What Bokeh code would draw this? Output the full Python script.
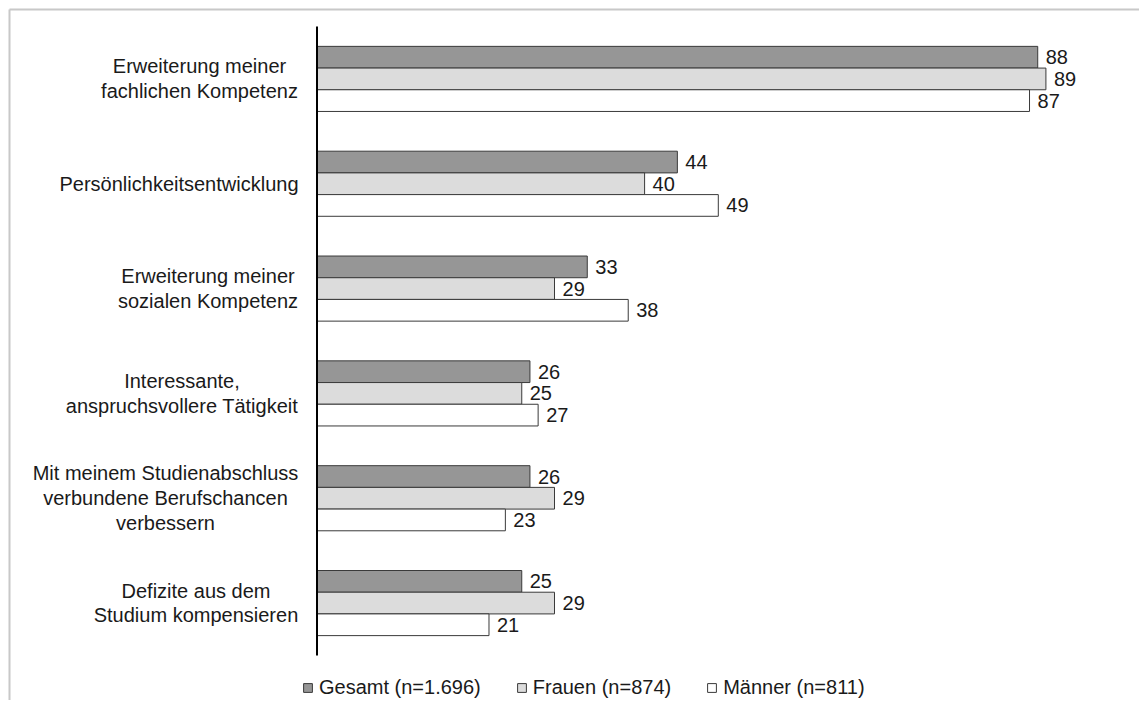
from bokeh.plotting import figure
from bokeh.models import Range1d, ColumnDataSource, Legend, LegendItem
from bokeh.embed import file_html
from bokeh.resources import INLINE
from bokeh.core.properties import value

# ---------------- data ----------------
categories = [
    "Erweiterung meiner\nfachlichen Kompetenz",
    "Persönlichkeitsentwicklung",
    "Erweiterung meiner\nsozialen Kompetenz",
    "Interessante,\nanspruchsvollere Tätigkeit",
    "Mit meinem Studienabschluss\nverbundene Berufschancen\nverbessern",
    "Defizite aus dem\nStudium kompensieren",
]
gesamt = [88, 44, 33, 26, 26, 25]
frauen = [89, 40, 29, 25, 29, 29]
maenner = [87, 49, 38, 27, 23, 21]
series_names = ["Gesamt (n=1.696)", "Frauen (n=874)", "Männer (n=811)"]

# ---------------- layout ----------------
W, H = 1139, 700
ZERO_PX = 316.5        # canvas x of value 0
PX_PER_UNIT = 8.19
TOP_PX = 26.0          # canvas y of the top of the category band
ROW_PX = 104.83
BAR_PX = 21.7
LABEL_CENTER_PX = [199, 178.5, 207.5, 181.5, 165, 195.5]  # canvas x of label centres
BORDER_PX = 9

FONT_NAME = "Liberation Sans"
FONT = value(FONT_NAME)
FS = "20px"
TXT = "#1a1a1a"

n = len(categories)
x_start = -ZERO_PX / PX_PER_UNIT
x_end = (W - ZERO_PX) / PX_PER_UNIT
y_top = -TOP_PX / ROW_PX - 0.5
y_bottom = (H - TOP_PX) / ROW_PX - 0.5
bh = BAR_PX / ROW_PX

p = figure(width=W, height=H, output_backend="svg", toolbar_location=None,
           x_range=Range1d(x_start, x_end), y_range=Range1d(y_bottom, y_top),
           x_axis_location=None, y_axis_location=None,
           min_border=0, min_border_left=0, min_border_right=0,
           min_border_top=0, min_border_bottom=0)
p.outline_line_color = None
p.xgrid.visible = False
p.ygrid.visible = False
p.background_fill_color = "white"
p.border_fill_color = "white"

# chart-area border (top + left visible)
bx = x_start + BORDER_PX / PX_PER_UNIT
by = y_top + BORDER_PX / ROW_PX
p.segment(x0=[bx, bx], y0=[by, by], x1=[bx, x_end], y1=[y_bottom, by],
          line_color="#c8c8c8", line_width=2)

ys = list(range(n))
fills = ["#969696", "#dcdcdc", "#ffffff"]
series = [gesamt, frauen, maenner]
offsets = [-bh, 0.0, bh]
renderers = []
for vals, off, fc in zip(series, offsets, fills):
    src = ColumnDataSource(dict(y=[y + off for y in ys], v=vals,
                                t=[str(v) for v in vals]))
    r = p.hbar(y="y", left=0, right="v", height=bh, source=src,
               fill_color=fc, line_color="#3a3a3a", line_width=1)
    renderers.append(r)
    p.text(x="v", y="y", text="t", source=src, x_offset=8,
           text_align="left", text_baseline="middle",
           text_font=FONT, text_font_size=FS, text_color=TXT)

# vertical category axis line
p.segment(x0=[0], y0=[-0.5], x1=[0], y1=[n - 0.5], line_color="black", line_width=2)

# category labels
lab_x = [(c - ZERO_PX) / PX_PER_UNIT for c in LABEL_CENTER_PX]
p.text(x=lab_x, y=ys, text=categories, text_align="center", text_baseline="middle",
       text_font=FONT, text_font_size=FS, text_color=TXT, text_line_height=1.13)

legend = Legend(items=[LegendItem(label=nm, renderers=[r]) for nm, r in zip(series_names, renderers)],
                orientation="horizontal", location=(302, 1),
                glyph_width=11, glyph_height=11, label_standoff=6, spacing=35,
                padding=0, margin=0, border_line_color=None, background_fill_alpha=0,
                label_text_font=FONT_NAME, label_text_font_size=FS, label_text_color=TXT)
p.add_layout(legend)

open("out.html", "w").write(file_html(p, INLINE))
